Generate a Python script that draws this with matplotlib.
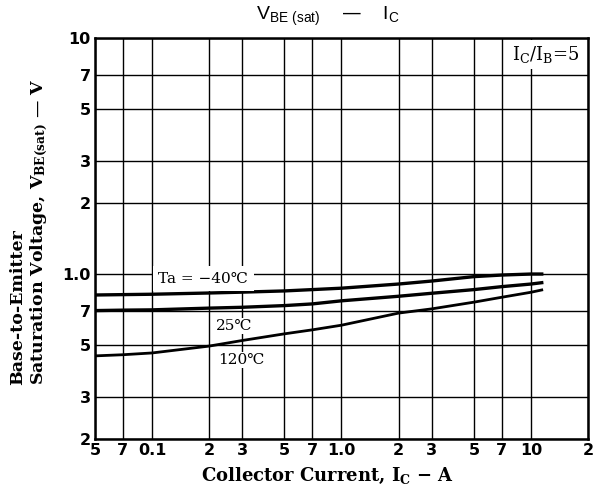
import numpy as np
import matplotlib
matplotlib.use("Agg")
import matplotlib.pyplot as plt
from matplotlib.ticker import FixedLocator, FixedFormatter, NullLocator

# Data (IC in A, VBE(sat) in V)
ic = [0.05, 0.07, 0.1, 0.2, 0.3, 0.5, 0.7, 1.0, 2, 3, 5, 7, 10, 11.4]
vbe_m40 = [0.815, 0.818, 0.821, 0.831, 0.838, 0.848, 0.859, 0.871, 0.907, 0.934, 0.975, 0.99, 1.0, 1.0]
vbe_25 = [0.700, 0.703, 0.705, 0.717, 0.723, 0.735, 0.747, 0.77, 0.805, 0.829, 0.859, 0.884, 0.907, 0.919]
vbe_120 = [0.450, 0.455, 0.463, 0.495, 0.523, 0.558, 0.580, 0.607, 0.683, 0.712, 0.760, 0.797, 0.837, 0.856]

xticks = [0.05, 0.07, 0.1, 0.2, 0.3, 0.5, 0.7, 1.0, 2, 3, 5, 7, 10, 20]
xlabels = ["5", "7", "0.1", "2", "3", "5", "7", "1.0", "2", "3", "5", "7", "10", "2"]
yticks = [0.2, 0.3, 0.5, 0.7, 1.0, 2, 3, 5, 7, 10]
ylabels = ["2", "3", "5", "7", "1.0", "2", "3", "5", "7", "10"]

serif = ["DejaVu Serif"]

fig = plt.figure(figsize=(5.95, 4.94), dpi=100)
ax = fig.add_axes([95 / 595, 55 / 494, 493 / 595, 401 / 494])
ax.set_xscale("log")
ax.set_yscale("log")
ax.set_xlim(0.05, 20)
ax.set_ylim(0.2, 10)

ax.xaxis.set_major_locator(FixedLocator(xticks))
ax.xaxis.set_major_formatter(FixedFormatter(xlabels))
ax.yaxis.set_major_locator(FixedLocator(yticks))
ax.yaxis.set_major_formatter(FixedFormatter(ylabels))
ax.xaxis.set_minor_locator(NullLocator())
ax.yaxis.set_minor_locator(NullLocator())
ax.tick_params(length=0, pad=3)
for lab in ax.get_xticklabels() + ax.get_yticklabels():
    lab.set_fontweight("bold")
    lab.set_fontsize(11.5)
ax.grid(True, color="black", linewidth=1.0)
for s in ax.spines.values():
    s.set_linewidth(1.8)

ax.plot(ic, vbe_m40, color="black", linewidth=2.4)
ax.plot(ic, vbe_25, color="black", linewidth=2.4)
ax.plot(ic, vbe_120, color="black", linewidth=2.0)

ax.text(0.108, 0.955, "Ta = \u221240\u2103", family=serif, fontsize=11,
        va="center", ha="left", bbox=dict(facecolor="white", edgecolor="none", pad=4))
ax.text(0.218, 0.603, "25\u2103", family=serif, fontsize=11, va="center", ha="left",
        bbox=dict(facecolor="white", edgecolor="none", pad=1))
ax.text(0.222, 0.432, "120\u2103", family=serif, fontsize=11, va="center", ha="left",
        bbox=dict(facecolor="white", edgecolor="none", pad=1))
ax.text(0.984, 0.958, r"$\mathregular{I_C/I_B}$=5", transform=ax.transAxes,
        family=serif, fontsize=13, va="center", ha="right",
        bbox=dict(facecolor="white", edgecolor="none", pad=3))

fig.text(328 / 595, 1 - 16 / 494,
         r"$\mathregular{V_{BE\ (sat)}}$    " + "\u2014" + r"    $\mathregular{I_C}$",
         family="Liberation Sans", fontsize=14, ha="center", va="center")
fig.text(328 / 595, 1 - 476 / 494,
         r"Collector Current, $\mathregular{I_C}$ " + "\u2212 A",
         family=serif, fontsize=13, fontweight="bold", ha="center", va="center")
fig.text(30 / 595, 1 - 385 / 494,
         "Base-to-Emitter\nSaturation Voltage, $\\mathregular{V_{BE(sat)}}$ \u2014 V",
         family=serif, fontsize=12.5, fontweight="bold", rotation=90,
         ha="center", va="bottom", multialignment="left", linespacing=1.15)

fig.savefig("out.png", dpi=100)
